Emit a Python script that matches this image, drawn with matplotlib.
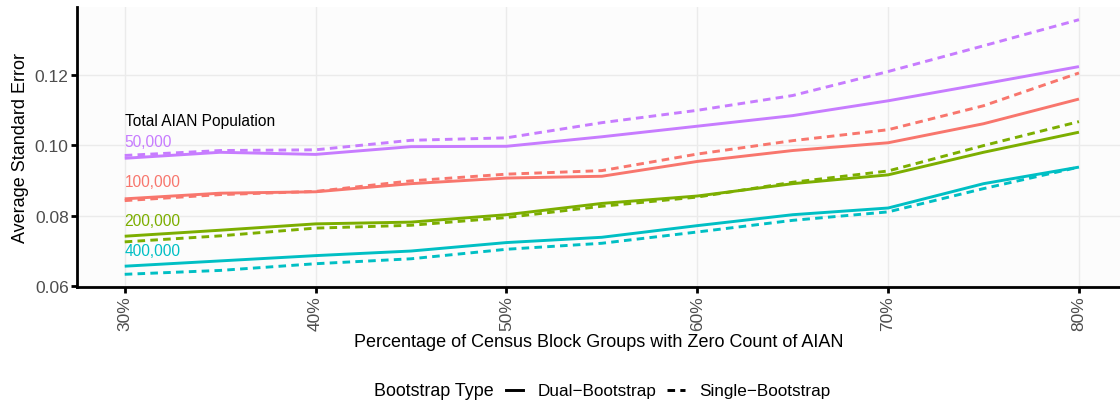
import matplotlib
matplotlib.use("Agg")
import matplotlib.pyplot as plt
from matplotlib.lines import Line2D
from matplotlib.offsetbox import HPacker

plt.rcParams['font.family'] = ['Liberation Sans', 'DejaVu Sans']

pct = [30, 35, 40, 45, 50, 55, 60, 65, 70, 75, 80]
populations = ["50,000", "100,000", "200,000", "400,000"]
colors = {"50,000": "#C77CFF", "100,000": "#F8766D", "200,000": "#7CAE00", "400,000": "#00BFC4"}

dual = {
    "50,000":  [0.0963, 0.0980, 0.0974, 0.0996, 0.0997, 0.1024, 0.1054, 0.1084, 0.1126, 0.1174, 0.1223],
    "100,000": [0.0848, 0.0864, 0.0868, 0.0891, 0.0907, 0.0912, 0.0954, 0.0985, 0.1007, 0.1061, 0.1131],
    "200,000": [0.0742, 0.0759, 0.0777, 0.0782, 0.0803, 0.0835, 0.0856, 0.0891, 0.0916, 0.0980, 0.1037],
    "400,000": [0.0657, 0.0672, 0.0687, 0.0700, 0.0724, 0.0739, 0.0772, 0.0803, 0.0822, 0.0891, 0.0938],
}
single = {
    "50,000":  [0.0971, 0.0985, 0.0987, 0.1014, 0.1021, 0.1064, 0.1099, 0.1141, 0.1209, 0.1282, 0.1356],
    "100,000": [0.0843, 0.0860, 0.0869, 0.0899, 0.0918, 0.0928, 0.0975, 0.1013, 0.1044, 0.1112, 0.1205],
    "200,000": [0.0726, 0.0743, 0.0765, 0.0773, 0.0795, 0.0827, 0.0853, 0.0895, 0.0927, 0.0999, 0.1067],
    "400,000": [0.0634, 0.0645, 0.0664, 0.0678, 0.0705, 0.0722, 0.0754, 0.0787, 0.0811, 0.0877, 0.0938],
}
label_y = {"50,000": 0.1010, "100,000": 0.0898, "200,000": 0.0787, "400,000": 0.0702}
header_y = 0.1070

xticks = [30, 40, 50, 60, 70, 80]
xticklabels = ["30%", "40%", "50%", "60%", "70%", "80%"]
yticks = [0.06, 0.08, 0.10, 0.12]
yticklabels = ["0.06", "0.08", "0.10", "0.12"]

fig = plt.figure(figsize=(11.2, 4.02), dpi=100)
ax = fig.add_axes([77/1120, 1 - 288/402, (1120 - 77)/1120, (288 - 8)/402])
ax.set_facecolor("#FCFCFC")

lw = 2.1
dash = (2.6, 1.8)
for p in populations:
    ax.plot(pct, dual[p], color=colors[p], lw=lw, solid_capstyle='butt', zorder=3)
    ax.plot(pct, single[p], color=colors[p], lw=lw, dashes=dash, zorder=3)
    ax.text(30, label_y[p], p, color=colors[p], fontsize=11.2, ha='left', va='center', zorder=4)
ax.text(30, header_y, "Total AIAN Population", color="black", fontsize=11.2, ha='left', va='center', zorder=4)

ax.set_xlim(27.5, 82.15)
ax.set_ylim(0.0598, 0.1392)
ax.set_xticks(xticks)
ax.set_xticklabels(xticklabels, rotation=90, va='top', ha='center')
ax.set_yticks(yticks)
ax.set_yticklabels(yticklabels)
ax.grid(True, color="#EBEBEB", lw=1.0, zorder=0)
ax.set_axisbelow(True)

for s in ['top', 'right']:
    ax.spines[s].set_visible(False)
for s in ['left', 'bottom']:
    ax.spines[s].set_linewidth(2.0)
    ax.spines[s].set_color("black")
ax.tick_params(axis='both', length=4, width=2.0, color="black", labelsize=12.5, labelcolor="#4D4D4D", pad=2)

ax.set_xlabel("Percentage of Census Block Groups with Zero Count of AIAN", fontsize=13, color="black", labelpad=2)
ax.set_ylabel("Average Standard Error", fontsize=13, color="black", labelpad=4)

handles = [Line2D([0], [0], color='black', lw=lw),
           Line2D([0], [0], color='black', lw=lw, dashes=dash)]
leg = fig.legend(handles, ["Dual\u2212Bootstrap", "Single\u2212Bootstrap"], title="Bootstrap Type",
                 loc='center', bbox_to_anchor=(602/1120, 1 - 392/402), ncol=2, frameon=False,
                 fontsize=12.3, title_fontsize=12.9, handlelength=1.0, handletextpad=0.85, columnspacing=0.65)
title_box = leg._legend_title_box
handle_box = leg._legend_handle_box
leg._legend_box._children = [HPacker(pad=0, sep=9, children=[title_box, handle_box], align='center')]

fig.savefig("out.png", dpi=100)
